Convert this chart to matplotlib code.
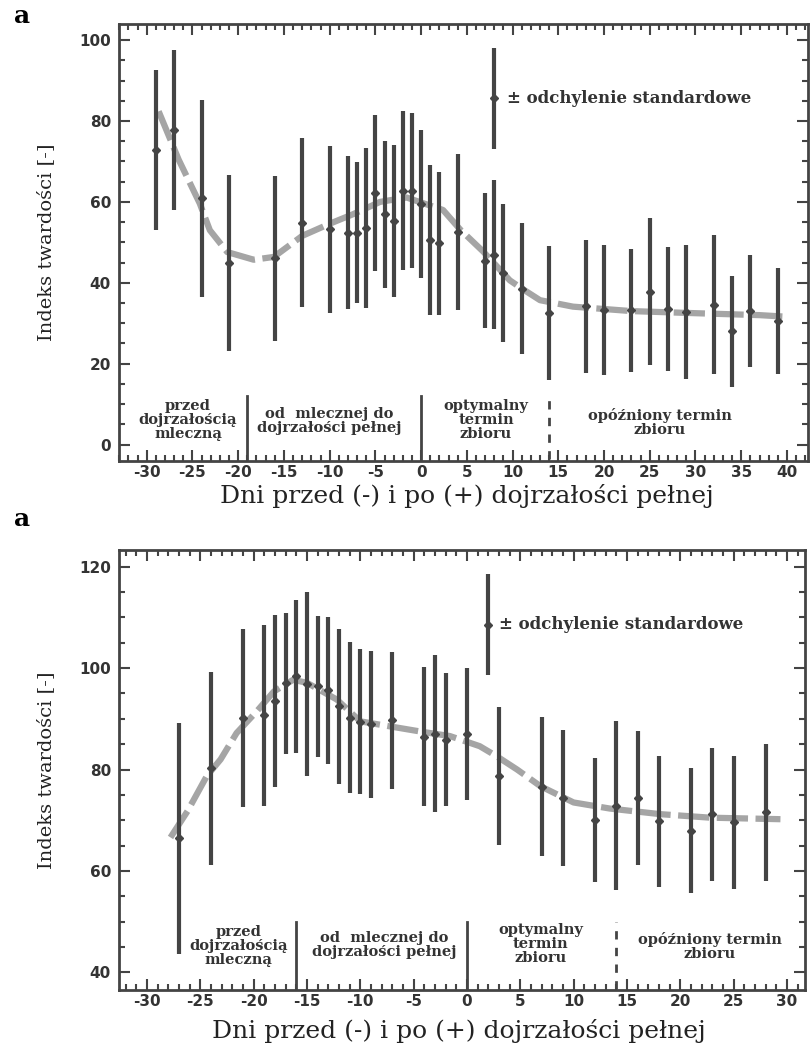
import numpy as np
import matplotlib.pyplot as plt
from matplotlib.ticker import MultipleLocator

plt.rcParams['axes.unicode_minus'] = False

# --- data: top panel (dni, srednia, odchylenie)
day_a = [-29, -27, -24, -21, -16, -13, -10, -8, -7, -6, -5, -4, -3, -2, -1, 0,
         1, 2, 4, 7, 8, 9, 11, 14, 18, 20, 23, 25, 27, 29, 32, 34, 36, 39]
mean_a = [72.9, 77.8, 60.9, 44.9, 46.1, 54.9, 53.2, 52.4, 52.4, 53.6, 62.1, 56.9,
          55.3, 62.8, 62.8, 59.5, 50.6, 49.8, 52.6, 45.5, 46.9, 42.4, 38.5, 32.5,
          34.2, 33.3, 33.2, 37.8, 33.6, 32.8, 34.6, 28.0, 33.0, 30.5]
sd_a = [19.8, 19.7, 24.4, 21.8, 20.4, 21.0, 20.7, 18.9, 17.4, 19.8, 19.3, 18.2,
        18.8, 19.6, 19.2, 18.3, 18.5, 17.7, 19.3, 16.7, 18.4, 17.1, 16.2, 16.6,
        16.4, 16.1, 15.2, 18.1, 15.3, 16.6, 17.1, 13.7, 13.9, 13.1]
fit_x_a = [-28.7, -26.5, -24.2, -23.1, -21.2, -18.3, -16.1, -13.0, -10.0, -7.4,
           -4.5, -1.6, 2.4, 4.3, 6.8, 9.7, 11.0, 13.0, 16.6, 23.0, 29.7, 37.0, 40.0]
fit_y_a = [82.4, 70.4, 59.6, 53.0, 47.6, 45.7, 46.4, 51.6, 54.6, 57.0,
           60.0, 61.1, 58.0, 53.1, 47.7, 40.6, 38.6, 35.7, 34.1, 33.0, 32.5, 32.0, 31.6]
legend_a = (8, 85.6, 12.4)

# --- data: bottom panel
day_b = [-27, -24, -21, -19, -18, -17, -16, -15, -14, -13, -12, -11, -10, -9, -7,
         -4, -3, -2, 0, 3, 7, 9, 12, 14, 16, 18, 21, 23, 25, 28]
mean_b = [66.4, 80.2, 90.2, 90.7, 93.5, 97.0, 98.4, 96.9, 96.4, 95.6, 92.5, 90.2,
          89.4, 88.9, 89.7, 86.5, 87.1, 85.9, 87.0, 78.7, 76.6, 74.3, 70.0, 72.9,
          74.3, 69.8, 67.9, 71.2, 69.6, 71.6]
sd_b = [22.8, 19.1, 17.6, 17.8, 16.9, 13.9, 15.1, 18.1, 13.9, 14.5, 15.3, 14.9,
        14.3, 14.5, 13.5, 13.7, 15.4, 13.1, 13.0, 13.6, 13.7, 13.4, 12.2, 16.7,
        13.2, 12.9, 12.3, 13.1, 13.1, 13.5]
fit_x_b = [-27.8, -26.2, -24.4, -23.1, -21.6, -19.7, -18.1, -16.3, -15.0, -12.2,
           -10.0, -7.2, -4.1, -1.6, 1.2, 2.8, 4.7, 6.9, 10.0, 13.4, 18.1, 22.8, 29.4]
fit_y_b = [66.6, 71.8, 78.7, 82.0, 87.2, 91.5, 95.4, 97.7, 97.1, 93.8,
           89.5, 88.5, 87.4, 86.6, 84.6, 82.6, 80.0, 76.7, 73.5, 72.3, 71.2, 70.5, 70.2]
legend_b = (2, 108.6, 9.9)

stage_labels = ['przed\ndojrzałością\nmleczną', 'od  mlecznej do\ndojrzałości pełnej',
                'optymalny\ntermin\nzbioru', 'opóźniony termin\nzbioru']

DARK = '#444444'
SERIF = 'DejaVu Serif'


def panel(ax, day, mean, sd, fx, fy, leg, xlim, ylim, ymajor, xmajor,
          bounds, line_top, label_pos, leg_text_x):
    ax.plot(fx, fy, color='#a5a5a5', lw=4.5, ls=(0, (5, 1.2)), zorder=1)
    ax.errorbar(day, mean, yerr=sd, fmt='D', ms=4, color=DARK, ecolor=DARK,
                elinewidth=3, capsize=0, zorder=3)
    ax.errorbar([leg[0]], [leg[1]], yerr=[leg[2]], fmt='D', ms=4, color=DARK,
                ecolor=DARK, elinewidth=3, capsize=0, zorder=3)
    ax.text(leg_text_x, leg[1], '± odchylenie standardowe', family=SERIF,
            fontweight='bold', fontsize=12, va='center', ha='left', color='#333333')

    # granice etapow
    y0 = ylim[0]
    for i, b in enumerate(bounds):
        ax.plot([b, b], [y0 + 0.3, line_top], color=DARK, lw=2,
                ls='-' if i < 2 else (0, (3, 3)), zorder=2)
    for (px, py), lab in zip(label_pos, stage_labels):
        ax.text(px, py, lab, ha='center', va='center', family=SERIF,
                fontweight='bold', fontsize=10.5, linespacing=1.0, color='#333333')

    ax.set_xlim(*xlim)
    ax.set_ylim(*ylim)
    ax.xaxis.set_major_locator(MultipleLocator(xmajor))
    ax.xaxis.set_minor_locator(MultipleLocator(1))
    ax.yaxis.set_major_locator(MultipleLocator(ymajor))
    ax.yaxis.set_minor_locator(MultipleLocator(5))
    ax.tick_params(which='both', direction='in', top=True, right=True,
                   color=DARK, width=1.5)
    ax.tick_params(which='major', length=8, labelsize=11, pad=6)
    ax.tick_params(axis='x', which='major', pad=3)
    ax.tick_params(which='minor', length=4)
    for lab in ax.get_xticklabels() + ax.get_yticklabels():
        lab.set_fontweight('bold')
        lab.set_color('#333333')
    for s in ax.spines.values():
        s.set_linewidth(2)
        s.set_color(DARK)
    ax.set_xlabel('Dni przed (-) i po (+) dojrzałości pełnej', family=SERIF,
                  fontsize=18, color='#222222', va='center')
    ax.set_ylabel('Indeks twardości [-]', family=SERIF, fontsize=14, color='#222222')
    ax.yaxis.set_label_coords(-0.093, 0.5)


fig = plt.figure(figsize=(8.1, 10.48), dpi=100)
ax1 = fig.add_axes([0.1473, 0.5604, 0.8502, 0.4167])
ax2 = fig.add_axes([0.1473, 0.0553, 0.8465, 0.4199])

panel(ax1, day_a, mean_a, sd_a, fit_x_a, fit_y_a, legend_a,
      (-33, 42.3), (-4, 104), 20, 5, [-19, 0, 14], 12,
      [(-25.5, 6.0), (-10, 5.8), (7.1, 6.0), (26.1, 5.5)], 9.4)
panel(ax2, day_b, mean_b, sd_b, fit_x_b, fit_y_b, legend_b,
      (-32.6, 31.7), (36.5, 123.3), 20, 5, [-16, 0, 14], 50,
      [(-21.4, 45.1), (-7.8, 45.3), (6.9, 45.6), (22.8, 45.1)], 3.0)

ax1.xaxis.set_label_coords(0.505, -0.08)
ax2.xaxis.set_label_coords(0.495, -0.093)

fig.text(0.027, 0.985, 'a', family=SERIF, fontweight='bold', fontsize=18,
         va='center', ha='center')
fig.text(0.027, 0.505, 'a', family=SERIF, fontweight='bold', fontsize=18,
         va='center', ha='center')

fig.savefig('out.png', dpi=100)
